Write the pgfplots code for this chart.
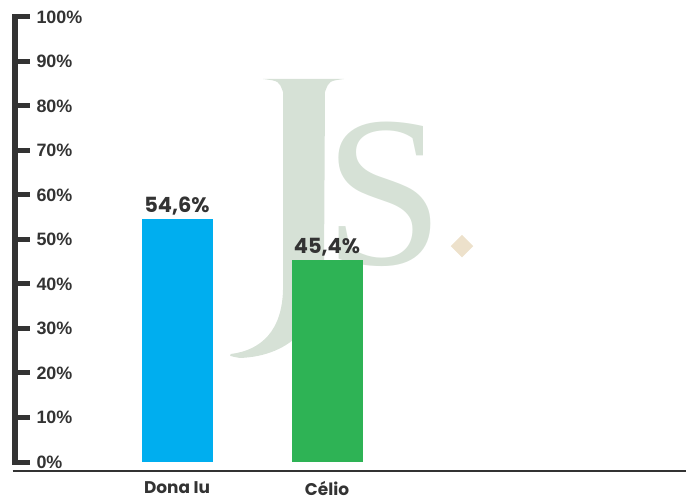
\documentclass[border=0pt]{standalone}
\usepackage{fontspec}
\setmainfont{Liberation Sans}
\newfontfamily\pop{Poppins}
\newfontfamily\wmfont{Liberation Serif}
\usepackage{pgfplots}
\pgfplotsset{compat=1.18}

\definecolor{axgray}{HTML}{333333}
\definecolor{barblue}{HTML}{00AEEF}
\definecolor{bargreen}{HTML}{2EB355}
\definecolor{wmgreen}{HTML}{D6E1D6}
\definecolor{wmbeige}{HTML}{EDE1CB}

\begin{document}
\begin{tikzpicture}
\begin{axis}[
    name=ax,
    set layers,
    scale only axis,
    width=671bp, height=471bp,
    xmin=-1.08, xmax=3.393,
    ymin=-2.02, ymax=103.8,
    clip=false,
    axis line style={draw=none},
    ytick={0,10,...,100},
    yticklabels={0\%,10\%,20\%,30\%,40\%,50\%,60\%,70\%,80\%,90\%,100\%},
    ytick pos=left,
    tick align=inside,
    major tick length=15bp,
    ytick style={line width=5bp, color=axgray},
    yticklabel style={anchor=west, xshift=18bp, text=axgray,
        font=\fontsize{18}{18}\selectfont\bfseries},
    xtick={0,1},
    xticklabels={Dona Iu, Célio},
    xtick style={draw=none},
    xticklabel style={text=axgray, inner sep=1bp, yshift=6bp,
        font=\fontsize{17}{17}\selectfont\pop\bfseries},
    ybar, bar width=71bp, bar shift=0pt,
    nodes near coords,
    point meta=explicit symbolic,
    every node near coord/.append style={text=axgray,
        font=\fontsize{21}{21}\selectfont\pop\bfseries, yshift=0bp},
]
% watermark (drawn in picture pixels from the top-left corner)
\begin{pgfonlayer}{axis background}
\begin{scope}[shift={(axis cs:-1.08,103.8)}, xshift=-15bp, x=1bp, y=-1bp]
\fill[wmgreen] (263,79) .. controls (279,81) .. (283,92) -- (283,290)
    .. controls (282,330) and (262,350) .. (231,354)
    .. controls (229,356) .. (240,358)
    .. controls (292,356) and (323,322) .. (324,268) -- (325,92)
    .. controls (329,81) .. (344,79) -- cycle;
\end{scope}
\node[anchor=base, text=wmgreen, font=\fontsize{216}{216}\selectfont\wmfont] at (axis cs:1.383,44.3) {S};
\node[fill=wmbeige, rotate=45, minimum size=16bp, inner sep=0pt] at (axis cs:1.9,48.5) {};
\end{pgfonlayer}

\addplot[fill=barblue, draw=none] coordinates {(0,54.6) [54,6\%]};
\addplot[fill=bargreen, draw=none] coordinates {(1,45.4) [45,4\%]};

% axis lines
\draw[line width=5bp, axgray, line cap=rect] (axis cs:-1.08,0) -- (axis cs:-1.08,100);
\draw[line width=2bp, axgray] (axis cs:-1.095,-2.02) -- (axis cs:3.393,-2.02);
\end{axis}
\pgfresetboundingbox
\path (ax.south west) ++(-15bp,-26bp) rectangle (ax.north east);
\end{tikzpicture}
\end{document}
